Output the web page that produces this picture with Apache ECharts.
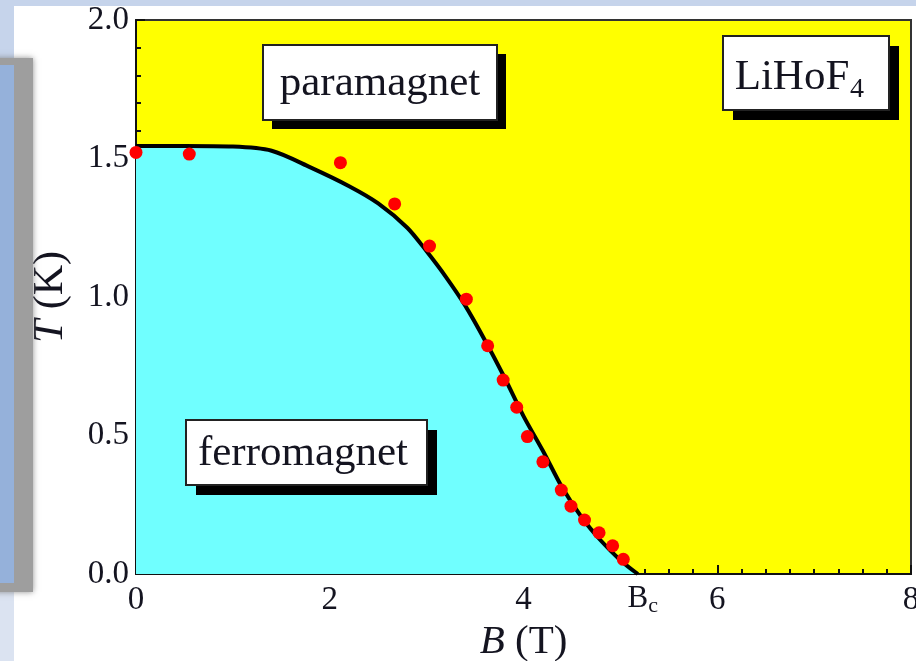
<!DOCTYPE html>
<html>
<head>
<meta charset="utf-8">
<script src="https://cdn.jsdelivr.net/npm/echarts@6/dist/echarts.min.js"></script>
<style>
  html, body { margin: 0; padding: 0; background: #ffffff; }
  #chart { width: 916px; height: 661px; }
</style>
</head>
<body>
<div id="chart"></div>
<script>
// Phase boundary T_c(B) of LiHoF4 (mean-field curve), B in tesla, T in kelvin
const boundaryB = [0, 0.5, 1.0, 1.4, 1.8, 2.2, 2.5, 2.8, 3.0, 3.2, 3.4, 3.6, 3.8, 4.0, 4.2, 4.4, 4.6, 4.8, 5.0, 5.18];
const boundaryT = [1.545, 1.545, 1.543, 1.528, 1.468, 1.400, 1.338, 1.250, 1.165, 1.072, 0.968, 0.845, 0.712, 0.570, 0.445, 0.312, 0.205, 0.120, 0.050, 0];

// Measured transition points
const measuredB = [0.0, 0.55, 2.11, 2.67, 3.03, 3.41, 3.63, 3.79, 3.93, 4.04, 4.20, 4.39, 4.49, 4.63, 4.78, 4.92, 5.03];
const measuredT = [1.522, 1.516, 1.485, 1.336, 1.184, 0.992, 0.824, 0.700, 0.602, 0.496, 0.405, 0.303, 0.245, 0.195, 0.149, 0.102, 0.053];

// Critical field where the ordered phase vanishes
const criticalField = 5.18;

// Axis ranges and tick steps
const xRange = [0, 8];
const xStep = 2;
const yRange = [0, 2];
const yStep = 0.5;

const serif = '"Liberation Serif", "Times New Roman", serif';
const ink = '#141420';

const chart = echarts.init(document.getElementById('chart'), null, { renderer: 'canvas' });

function pairs(xs, ys) {
  return xs.map((x, i) => [x, ys[i]]);
}

// Framed text box with a solid drop shadow
function labelBox(x, y, w, h, off, text, fontSize, textX, textY) {
  return [
    { type: 'rect', z: 100, silent: true,
      shape: { x: x + off, y: y + off, width: w, height: h },
      style: { fill: '#000000' } },
    { type: 'rect', z: 101, silent: true,
      shape: { x: x, y: y, width: w, height: h },
      style: { fill: '#ffffff', stroke: '#222222', lineWidth: 2 } },
    { type: 'text', z: 102, silent: true, x: textX, y: textY,
      style: { text: text, fontFamily: serif, fontSize: fontSize, fill: ink,
               align: 'center', verticalAlign: 'middle' } }
  ];
}

const option = {
  backgroundColor: '#ffffff',
  animation: false,
  grid: {
    left: 136, right: 5, top: 20, bottom: 87,
    outerBoundsMode: 'none',
    containLabel: false,
    show: true,
    backgroundColor: '#ffff00',
    borderColor: '#333333',
    borderWidth: 2
  },
  xAxis: {
    type: 'value',
    min: xRange[0], max: xRange[1], interval: xStep,
    name: '{i|B} (T)',
    nameLocation: 'middle',
    nameGap: 45,
    nameTextStyle: {
      fontFamily: serif, fontSize: 41, color: ink,
      rich: { i: { fontFamily: serif, fontSize: 41, fontStyle: 'italic', color: ink } }
    },
    axisLine: { show: true, lineStyle: { color: '#111111', width: 2 } },
    axisTick: { show: true, inside: true, length: 9, lineStyle: { color: '#111111', width: 2 } },
    minorTick: { show: true, splitNumber: 8, length: 5, lineStyle: { color: '#111111', width: 2 } },
    splitLine: { show: false },
    minorSplitLine: { show: false },
    axisLabel: {
      margin: 10,
      fontFamily: serif, fontSize: 33, color: ink,
      formatter: v => String(v)
    }
  },
  yAxis: {
    type: 'value',
    min: yRange[0], max: yRange[1], interval: yStep,
    name: '{i|T} (K)',
    nameLocation: 'middle',
    nameGap: 64,
    nameRotate: 90,
    nameTextStyle: {
      fontFamily: serif, fontSize: 42, color: ink,
      rich: { i: { fontFamily: serif, fontSize: 42, fontStyle: 'italic', color: ink } }
    },
    axisLine: { show: true, lineStyle: { color: '#111111', width: 2 } },
    axisTick: { show: true, inside: true, length: 9, lineStyle: { color: '#111111', width: 2 } },
    minorTick: { show: true, splitNumber: 5, length: 5, lineStyle: { color: '#111111', width: 2 } },
    splitLine: { show: false },
    minorSplitLine: { show: false },
    axisLabel: {
      margin: 7,
      fontFamily: serif, fontSize: 33, color: ink,
      formatter: v => v.toFixed(1)
    }
  },
  series: [
    {
      // ferromagnetic region under the phase boundary
      type: 'line',
      data: pairs(boundaryB, boundaryT),
      smooth: 0.3,
      symbol: 'none',
      z: 3,
      lineStyle: { color: '#000000', width: 4 },
      areaStyle: { color: '#70ffff', opacity: 1 }
    },
    {
      type: 'scatter',
      data: pairs(measuredB, measuredT),
      symbol: 'circle',
      symbolSize: 13,
      clip: false,
      z: 5,
      itemStyle: { color: '#ff0000', opacity: 1 }
    },
    {
      // critical-field marker on the field axis
      type: 'scatter',
      data: [[criticalField, 0]],
      symbolSize: 0,
      clip: false,
      z: 6,
      silent: true,
      itemStyle: { opacity: 1 },
      label: {
        show: true,
        position: 'bottom',
        distance: 7,
        offset: [5, 0],
        formatter: 'B{s|c}',
        fontFamily: serif, fontSize: 31, color: ink,
        textBorderWidth: 0,
        opacity: 1,
        rich: { s: { fontFamily: serif, fontSize: 22, color: ink, textBorderWidth: 0, padding: [14, 0, 0, 0] } }
      }
    }
  ],
  graphic: [
    // slide background pieces around the figure
    { type: 'rect', z: 0, silent: true, shape: { x: 0, y: 0, width: 916, height: 6 }, style: { fill: '#c6d4eb' } },
    { type: 'rect', z: 0, silent: true, shape: { x: 0, y: 0, width: 14, height: 60 }, style: { fill: '#c6d4eb' } },
    { type: 'rect', z: 0, silent: true, shape: { x: 0, y: 590, width: 14, height: 71 }, style: { fill: '#dbe3f1' } },
    { type: 'rect', z: 1, silent: true, shape: { x: -10, y: 58, width: 43, height: 534 },
      style: { fill: '#9e9e9e', shadowBlur: 6, shadowColor: 'rgba(120,120,120,0.8)' } },
    { type: 'rect', z: 2, silent: true, shape: { x: 0, y: 65, width: 14, height: 518 }, style: { fill: '#95b1da' } },
    ...labelBox(263, 45, 234, 75, 9, 'paramagnet', 43, 380, 84),
    ...labelBox(186, 420, 241, 65, 10, 'ferromagnet', 43, 303, 454),
    ...labelBox(723, 36, 166, 74, 10, 'LiHoF', 43, 792, 78),
    { type: 'text', z: 103, silent: true, x: 857, y: 90,
      style: { text: '4', fontFamily: serif, fontSize: 28, fill: ink, align: 'center', verticalAlign: 'middle' } }
  ]
};

chart.setOption(option);
</script>
</body>
</html>
